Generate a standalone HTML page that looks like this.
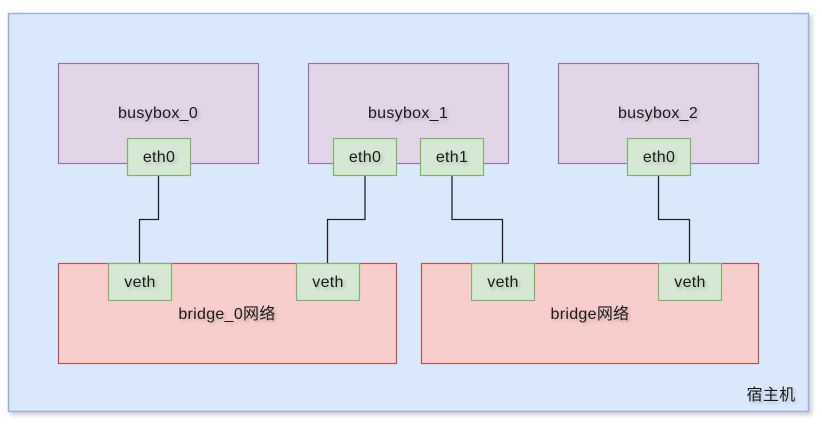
<!DOCTYPE html>
<html><head><meta charset="utf-8"><style>
html,body{margin:0;padding:0;background:#fff;}
svg text{font-family:"Liberation Sans","Noto Sans CJK SC",sans-serif;font-size:16px;fill:#1a1a1a;text-anchor:middle;letter-spacing:0.3px;}
</style></head><body>
<svg width="822" height="429" viewBox="0 0 822 429" xmlns="http://www.w3.org/2000/svg">
<defs><filter id="s" x="-10%" y="-10%" width="130%" height="130%"><feDropShadow dx="3" dy="3" stdDeviation="2" flood-color="#000" flood-opacity="0.18"/></filter>
<filter id="t"><feDropShadow dx="2" dy="2" stdDeviation="1.5" flood-color="#000" flood-opacity="0.2"/></filter></defs>
<rect x="8.5" y="13.5" width="800" height="398" fill="#dae8fc" stroke="#9cb0d6" stroke-width="1.5" filter="url(#s)"/>
<g fill="#e1d5e7" stroke="#9673a6" stroke-width="1.2">
<rect x="58.5" y="63.5" width="200" height="100"/>
<rect x="308.5" y="63.5" width="200" height="100"/>
<rect x="558.5" y="63.5" width="200" height="100"/>
</g>
<g fill="#f8cecc" stroke="#b85450" stroke-width="1.2">
<rect x="58.5" y="263.5" width="338" height="100"/>
<rect x="421.5" y="263.5" width="337" height="100"/>
</g>
<g fill="none" stroke="#222" stroke-width="1.3">
<polyline points="158.5,175 158.5,219.5 139.5,219.5 139.5,263"/>
<polyline points="365,175 365,219.5 327.5,219.5 327.5,263"/>
<polyline points="452,175 452,219.5 502.5,219.5 502.5,263"/>
<polyline points="658.5,175 658.5,219.5 689.5,219.5 689.5,263"/>
</g>
<g fill="#d5e8d4" stroke="#82b366" stroke-width="1.2">
<rect x="127.5" y="138.5" width="63" height="37"/>
<rect x="333.5" y="138.5" width="63" height="37"/>
<rect x="420.5" y="138.5" width="63" height="37"/>
<rect x="627.5" y="138.5" width="63" height="37"/>
<rect x="108.5" y="263.5" width="63" height="37"/>
<rect x="296.5" y="263.5" width="63" height="37"/>
<rect x="471.5" y="263.5" width="63" height="37"/>
<rect x="658.5" y="263.5" width="63" height="37"/>
</g>
<g filter="url(#t)">
<text x="158" y="118">busybox_0</text>
<text x="408" y="118">busybox_1</text>
<text x="658" y="118">busybox_2</text>
<text x="159" y="162">eth0</text>
<text x="365" y="162">eth0</text>
<text x="452" y="162">eth1</text>
<text x="659" y="162">eth0</text>
<text x="140" y="287">veth</text>
<text x="328" y="287">veth</text>
<text x="503" y="287">veth</text>
<text x="690" y="287">veth</text>
<text x="227" y="319">bridge_0网络</text>
<text x="590" y="319">bridge网络</text>
<text x="771" y="400">宿主机</text>
</g>
</svg>
</body></html>
